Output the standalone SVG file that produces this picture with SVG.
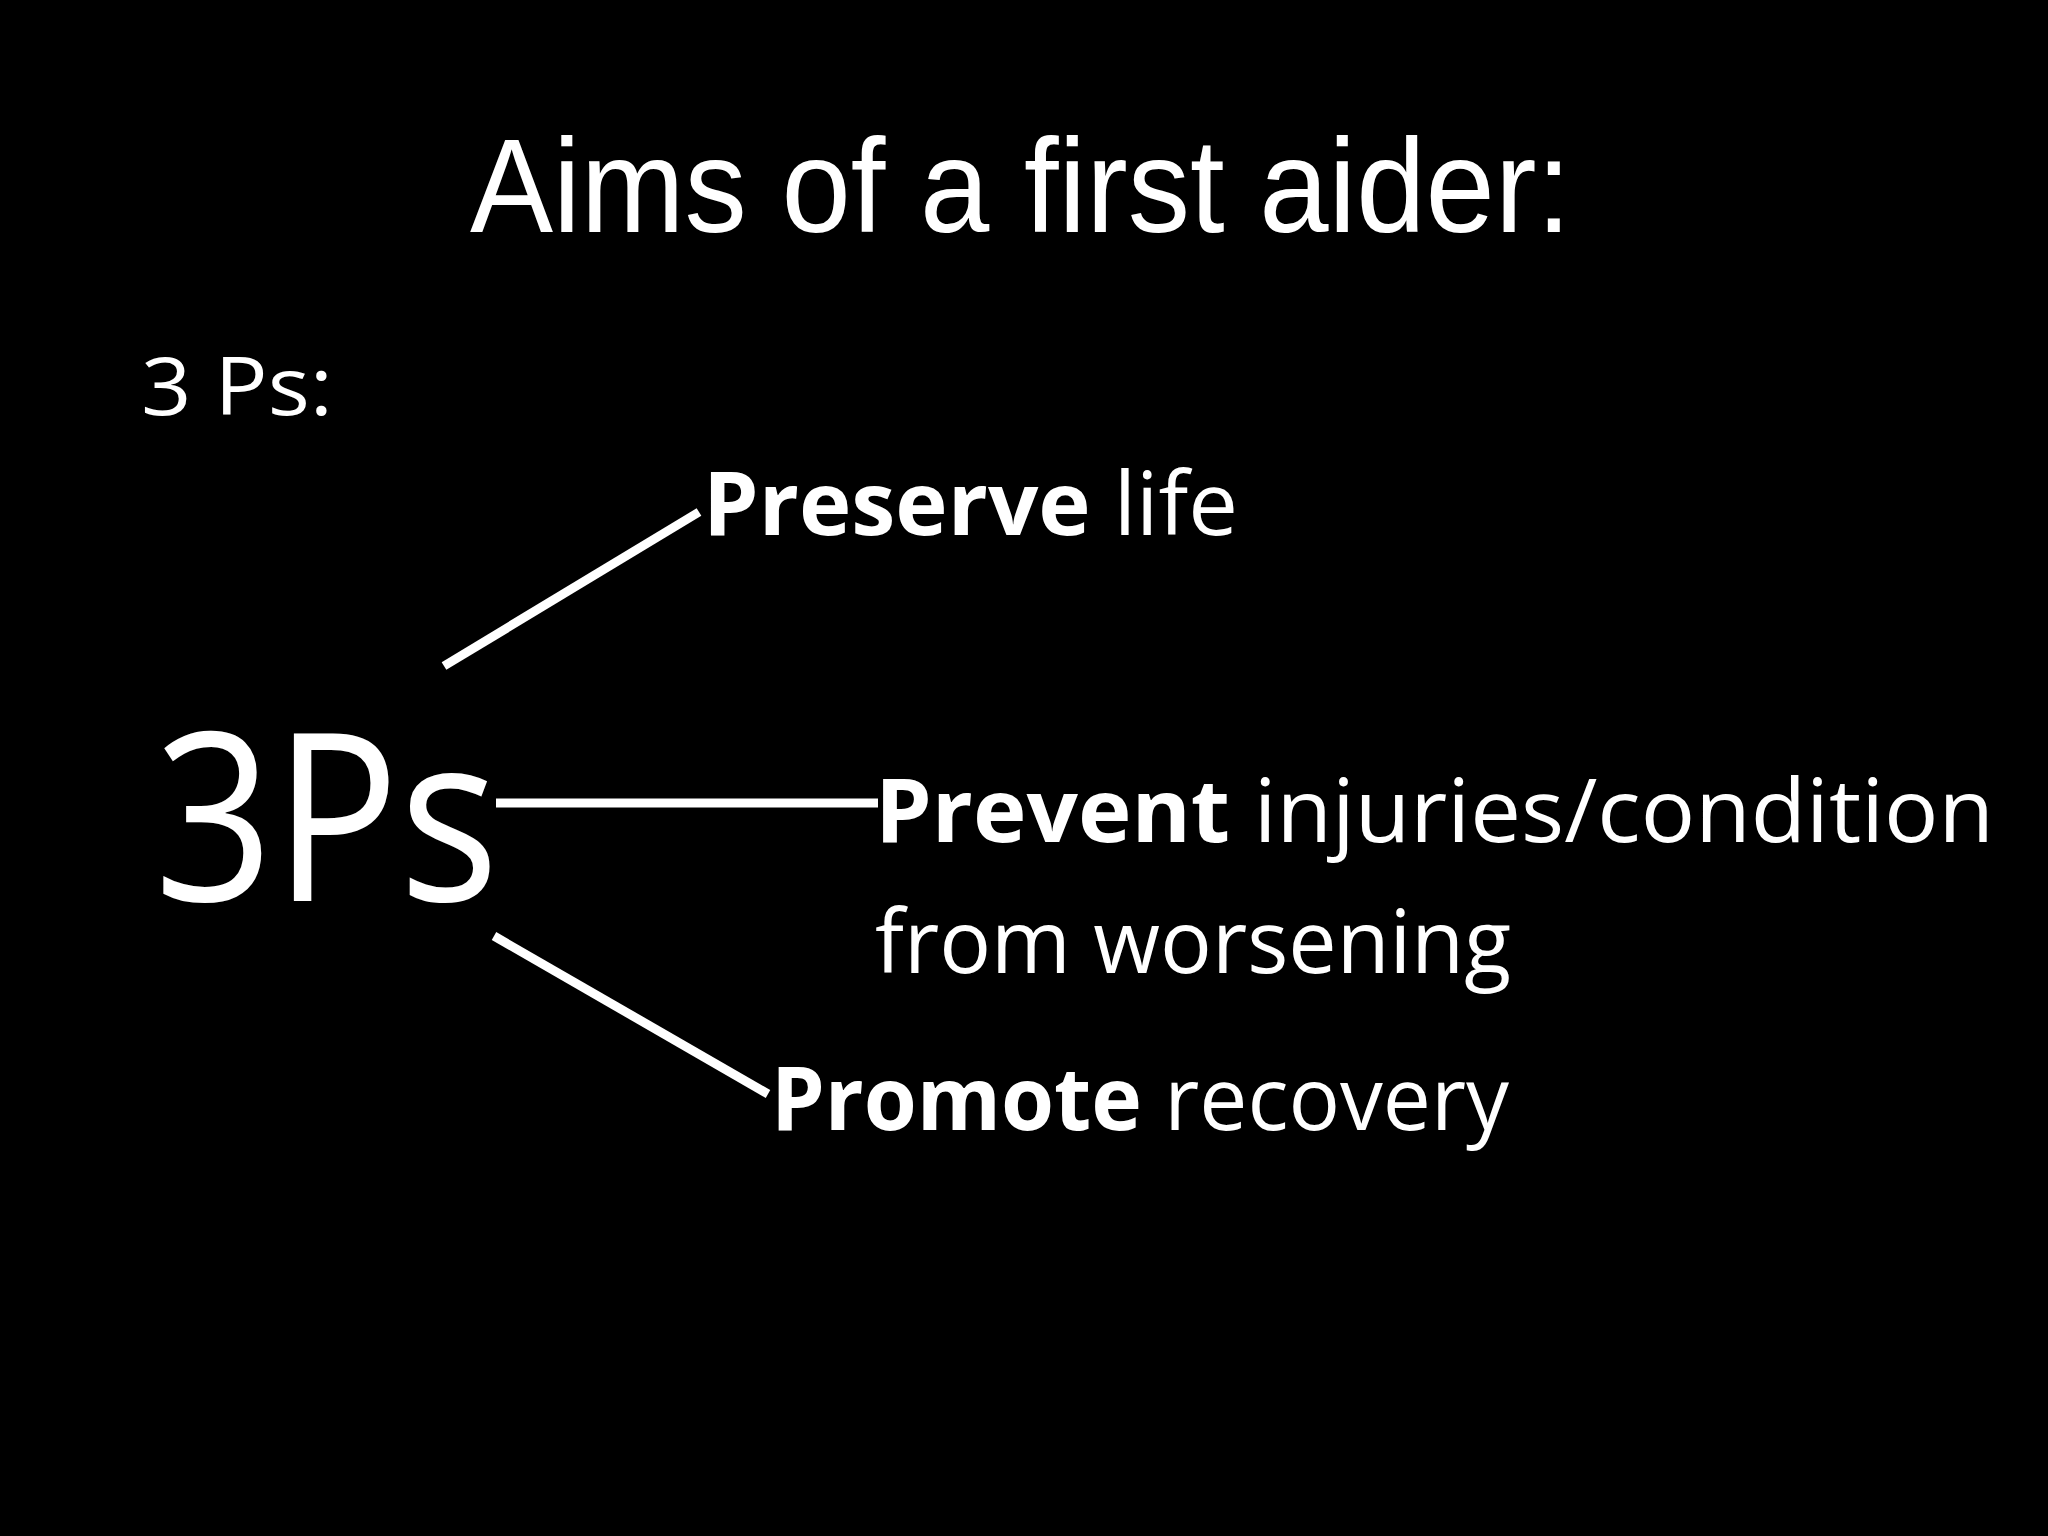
<svg xmlns="http://www.w3.org/2000/svg" width="2048" height="1536" viewBox="0 0 2048 1536">
<style>
text{fill:#fff;font-family:"Comic Sans MS","Open Sans","DejaVu Sans",sans-serif}
.t{font-family:"Liberation Sans",Arial,sans-serif}
.b{font-weight:bold}
line{stroke:#fff;stroke-width:9}
</style>
<rect width="2048" height="1536" fill="#000"/>
<text class="t" x="470" y="232" font-size="134" textLength="1101" lengthAdjust="spacingAndGlyphs">Aims of a first aider:</text>
<text x="141" y="415" font-size="80" textLength="192" lengthAdjust="spacingAndGlyphs">3 Ps:</text>
<g id="center"><text x="154" y="901" font-size="235" textLength="345" lengthAdjust="spacingAndGlyphs">3Ps</text></g>
<g id="connectors">
<line x1="444" y1="666" x2="699" y2="512"/>
<line x1="496" y1="803" x2="878" y2="803"/>
<line x1="494" y1="936" x2="768" y2="1094"/>
</g>
<g id="preserve"><text x="703" y="535" font-size="88" textLength="535" lengthAdjust="spacingAndGlyphs"><tspan class="b">Preserve</tspan> life</text></g>
<g id="prevent"><text x="875" y="842" font-size="88" textLength="1119" lengthAdjust="spacingAndGlyphs"><tspan class="b">Prevent</tspan> injuries/condition</text>
<text x="875" y="973" font-size="88" textLength="636" lengthAdjust="spacingAndGlyphs">from worsening</text></g>
<g id="promote"><text x="771" y="1130" font-size="88" textLength="738" lengthAdjust="spacingAndGlyphs"><tspan class="b">Promote</tspan> recovery</text></g>
</svg>
